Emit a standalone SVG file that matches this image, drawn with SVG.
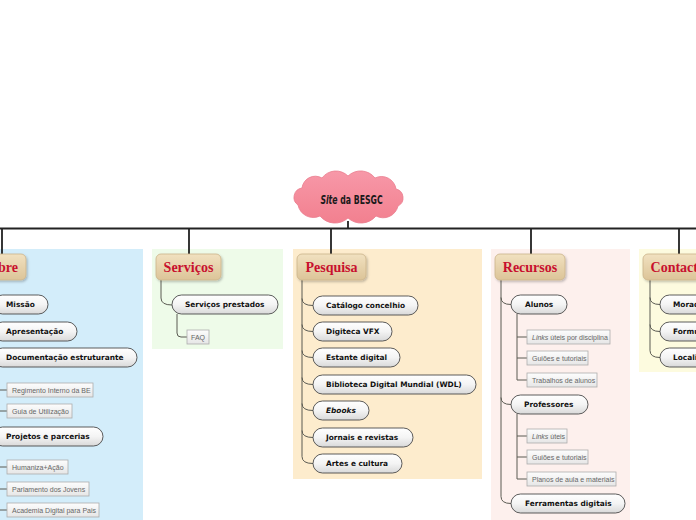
<svg xmlns="http://www.w3.org/2000/svg" width="696" height="520" viewBox="0 0 696 520">
<defs>
<linearGradient id="gTopic" x1="0" y1="0" x2="0" y2="1"><stop offset="0" stop-color="#f1e1c0"/><stop offset="1" stop-color="#dcc498"/></linearGradient>
<linearGradient id="gPill" x1="0" y1="0" x2="0" y2="1"><stop offset="0" stop-color="#ffffff"/><stop offset="0.5" stop-color="#f4f4f4"/><stop offset="1" stop-color="#d9d9d9"/></linearGradient>
<linearGradient id="gLeaf" x1="0" y1="0" x2="0" y2="1"><stop offset="0" stop-color="#fdfdfd"/><stop offset="1" stop-color="#e6e6e6"/></linearGradient>
<linearGradient id="gCloud" x1="0" y1="0" x2="0" y2="1"><stop offset="0" stop-color="#f798a8"/><stop offset="1" stop-color="#f2808f"/></linearGradient>
<filter id="sh" x="-20%" y="-30%" width="140%" height="170%"><feDropShadow dx="1.2" dy="1.5" stdDeviation="1" flood-color="#000" flood-opacity="0.25"/></filter>
</defs>
<style>
.topic{fill:url(#gTopic);stroke:#cbb48a;stroke-width:0.8;filter:url(#sh)}
.tt{font-family:"Liberation Serif","Times New Roman",serif;font-weight:bold;font-size:14px;fill:#c8102e;text-anchor:middle}
.pill{fill:url(#gPill);stroke:#4a4a4a;stroke-width:0.9}
.pt{font-family:"DejaVu Sans",Verdana,sans-serif;font-weight:bold;font-size:7.4px;fill:#111}
.leaf{fill:url(#gLeaf);stroke:#adadad;stroke-width:0.8}
.lt{font-family:"Liberation Sans",Arial,sans-serif;font-size:7px;fill:#666}
.conn{fill:none;stroke:#5a5a52;stroke-width:1}
.trunk{fill:none;stroke:#222;stroke-width:1.8}
</style>

<g id="panels">
<rect x="-5" y="249" width="148" height="280" fill="#d3edfa"/>
<rect x="152" y="249" width="131" height="100" fill="#eefbe9"/>
<rect x="293" y="249" width="189" height="230" fill="#fdeccd"/>
<rect x="491" y="249" width="139" height="280" fill="#fdf0ed"/>
<rect x="639" y="249" width="70" height="123" fill="#fdfbdf"/>
</g>

<g id="connectors">
<path class="trunk" d="M0,228.5 H696 M348,221 V228 M2,228 V254 M189,228 V254 M331,228 V254 M531,228 V254 M679,228 V254"/>
<path class="conn" d="M-3,367 V390 H7 M-3,411 H7 M-3,446 V467 H7 M-3,489 H7 M-3,510 H7"/>
<path class="conn" d="M161,280 V298 Q161,305 172,305"/>
<path class="conn" d="M177,314 V333 Q177,337 181,337 H187"/>
<path class="conn" d="M302,280 V456.5 M302,298.5 Q302,305.5 313,305.5 M302,324.5 Q302,331.5 313,331.5 M302,350.5 Q302,357.5 313,357.5 M302,377.5 Q302,384.5 313,384.5 M302,403.5 Q302,410.5 313,410.5 M302,430.5 Q302,437.5 313,437.5 M302,456.5 Q302,463.5 313,463.5"/>
<path class="conn" d="M501,280 V496.5 M501,297.5 Q501,304.5 511,304.5 M501,397.5 Q501,404.5 511,404.5 M501,496.5 Q501,503.5 511,503.5"/>
<path class="conn" d="M517,314 V380 H527 M517,337 H527 M517,358 H527"/>
<path class="conn" d="M517,414 V479 H527 M517,436 H527 M517,457 H527"/>
<path class="conn" d="M650,280 V350.5 M650,297.5 Q650,304.5 660,304.5 M650,324.5 Q650,331.5 660,331.5 M650,350.5 Q650,357.5 660,357.5"/>
</g>

<g id="central">
<path d="M298,205 A9.4,9.4 0 0 1 302,188 A13.4,13.4 0 0 1 322,178 A17.2,17.2 0 0 1 348,176 A18.2,18.2 0 0 1 375,178 A14.7,14.7 0 0 1 396,189 A9.1,9.1 0 0 1 398,206 A15.2,15.2 0 0 1 376,216 A19.4,19.4 0 0 1 348,218 A19.4,19.4 0 0 1 320,216 A15.6,15.6 0 0 1 298,205 Z" fill="url(#gCloud)" stroke="#ea7b8d" stroke-width="0.8"/>
<text transform="translate(351.5,204) scale(0.75,1)" text-anchor="middle" font-family="'DejaVu Sans Condensed','DejaVu Sans',sans-serif" font-weight="bold" font-size="11.5" fill="#1a1a1a"><tspan font-style="italic">Site</tspan> da BESGC</text>
</g>

<g id="sobre">
<rect class="topic" x="-25" y="254" width="51" height="26" rx="5"/>
<text class="tt" x="0.5" y="272">Sobre</text>
</g>
<g id="missao"><rect class="pill" x="-7" y="295" width="55" height="19" rx="9.5"/><text class="pt" x="6" y="307.3">Missão</text></g>
<g id="apresentacao"><rect class="pill" x="-7" y="322" width="84" height="19" rx="9.5"/><text class="pt" x="6" y="334.3">Apresentação</text></g>
<g id="documentacao"><rect class="pill" x="-7" y="348" width="144" height="19" rx="9.5"/><text class="pt" x="6" y="360.3">Documentação estruturante</text></g>
<g id="regimento"><rect class="leaf" x="7" y="383" width="86" height="14"/><text class="lt" x="12" y="393">Regimento Interno da BE</text></g>
<g id="guia"><rect class="leaf" x="7" y="404" width="65" height="14"/><text class="lt" x="12" y="414">Guia de Utilização</text></g>
<g id="projetos"><rect class="pill" x="-7" y="427" width="110" height="19" rx="9.5"/><text class="pt" x="6" y="439.3">Projetos e parcerias</text></g>
<g id="humaniza"><rect class="leaf" x="7" y="460" width="61" height="14"/><text class="lt" x="12" y="470">Humaniza+Ação</text></g>
<g id="parlamento"><rect class="leaf" x="7" y="482" width="82" height="14"/><text class="lt" x="12" y="492">Parlamento dos Jovens</text></g>
<g id="academia"><rect class="leaf" x="7" y="503" width="92" height="14"/><text class="lt" x="12" y="513">Academia Digital para Pais</text></g>

<g id="servicos">
<rect class="topic" x="156" y="254" width="65" height="26" rx="5"/>
<text class="tt" x="188.5" y="272">Serviços</text>
</g>
<g id="servicos-prestados"><rect class="pill" x="172" y="295" width="106" height="19" rx="9.5"/><text class="pt" x="185" y="307.3">Serviços prestados</text></g>
<g id="faq"><rect class="leaf" x="187" y="330" width="22" height="14"/><text class="lt" x="191" y="340">FAQ</text></g>

<g id="pesquisa">
<rect class="topic" x="297" y="254" width="69" height="26" rx="5"/>
<text class="tt" x="331.5" y="272">Pesquisa</text>
</g>
<g id="catalogo"><rect class="pill" x="313" y="296" width="105" height="19" rx="9.5"/><text class="pt" x="326" y="308.3">Catálogo concelhio</text></g>
<g id="digiteca"><rect class="pill" x="313" y="322" width="79" height="19" rx="9.5"/><text class="pt" x="326" y="334.3">Digiteca VFX</text></g>
<g id="estante"><rect class="pill" x="313" y="348" width="87" height="19" rx="9.5"/><text class="pt" x="326" y="360.3">Estante digital</text></g>
<g id="biblioteca"><rect class="pill" x="313" y="375" width="163" height="19" rx="9.5"/><text class="pt" x="326" y="387.3">Biblioteca Digital Mundial (WDL)</text></g>
<g id="ebooks"><rect class="pill" x="313" y="401" width="56" height="19" rx="9.5"/><text class="pt" x="326" y="413.3" font-style="italic">Ebooks</text></g>
<g id="jornais"><rect class="pill" x="313" y="428" width="100" height="19" rx="9.5"/><text class="pt" x="326" y="440.3">Jornais e revistas</text></g>
<g id="artes"><rect class="pill" x="313" y="454" width="89" height="19" rx="9.5"/><text class="pt" x="326" y="466.3">Artes e cultura</text></g>

<g id="recursos">
<rect class="topic" x="495" y="254" width="70" height="26" rx="5"/>
<text class="tt" x="530" y="272">Recursos</text>
</g>
<g id="alunos"><rect class="pill" x="511" y="295" width="56" height="19" rx="9.5"/><text class="pt" x="525" y="307.3">Alunos</text></g>
<g id="links-disciplina"><rect class="leaf" x="527" y="330" width="83" height="14"/><text class="lt" x="532" y="340"><tspan font-style="italic">Links</tspan> úteis por disciplina</text></g>
<g id="guioes-alunos"><rect class="leaf" x="527" y="351" width="61" height="14"/><text class="lt" x="532" y="361">Guiões e tutoriais</text></g>
<g id="trabalhos"><rect class="leaf" x="527" y="373" width="70" height="14"/><text class="lt" x="532" y="383">Trabalhos de alunos</text></g>
<g id="professores"><rect class="pill" x="511" y="395" width="77" height="19" rx="9.5"/><text class="pt" x="524" y="407.3">Professores</text></g>
<g id="links-uteis"><rect class="leaf" x="527" y="429" width="40" height="14"/><text class="lt" x="532" y="439"><tspan font-style="italic">Links</tspan> úteis</text></g>
<g id="guioes-prof"><rect class="leaf" x="527" y="450" width="61" height="14"/><text class="lt" x="532" y="460">Guiões e tutoriais</text></g>
<g id="planos"><rect class="leaf" x="527" y="472" width="89" height="14"/><text class="lt" x="532" y="482">Planos de aula e materiais</text></g>
<g id="ferramentas"><rect class="pill" x="511" y="494" width="114" height="19" rx="9.5"/><text class="pt" x="525" y="506.3">Ferramentas digitais</text></g>

<g id="contactos">
<rect class="topic" x="643" y="254" width="75" height="26" rx="5"/>
<text class="tt" x="680.5" y="272">Contactos</text>
</g>
<g id="morada"><rect class="pill" x="660" y="295" width="60" height="19" rx="9.5"/><text class="pt" x="673" y="307.3">Morada</text></g>
<g id="formulario"><rect class="pill" x="660" y="322" width="75" height="19" rx="9.5"/><text class="pt" x="673" y="334.3">Formulário</text></g>
<g id="localizacao"><rect class="pill" x="660" y="348" width="80" height="19" rx="9.5"/><text class="pt" x="673" y="360.3">Localização</text></g>
</svg>
